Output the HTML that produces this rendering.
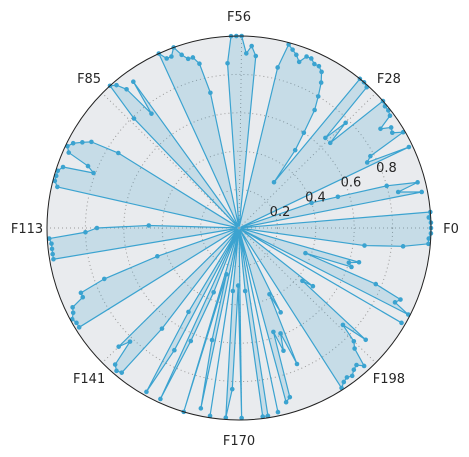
<!DOCTYPE html>
<html><head><meta charset="utf-8"><style>
html,body{margin:0;padding:0;background:#fff}
svg{display:block}
text{font-family:"DejaVu Sans","Liberation Sans",sans-serif;font-size:13px;fill:#262626}
</style></head><body>
<svg id="chart" width="469" height="457" viewBox="0 0 469 457"></svg>
<script>
const N = 226;
const categoryLabels = ["F0","F28","F56","F85","F113","F141","F170","F198"];
const categoryIndex = [0,28,56,85,113,141,170,198];
const radialTicks = [0.2,0.4,0.6,0.8];
const radialTickLabels = ["0.2","0.4","0.6","0.8"];
const spikeIndex = [0,1,2,3,7,8,9,10,11,12,16,17,18,19,20,21,22,23,24,25,26,27,28,29,30,31,32,33,34,35,36,37,38,39,40,41,42,43,44,45,46,47,48,53,54,55,56,57,58,59,64,65,66,67,68,69,70,71,72,79,80,81,82,83,84,93,94,95,96,97,98,99,100,101,102,103,104,105,112,113,114,115,116,117,118,119,125,126,127,128,129,130,131,132,133,141,142,143,144,145,146,150,151,152,154,155,156,159,160,161,162,164,166,167,168,169,170,173,174,175,177,179,180,181,182,183,184,185,186,190,191,192,193,194,195,196,197,198,199,200,201,202,207,209,210,211,212,213,214,215,216,221,222,223,224,225];
const spikeValue = [1.0,1.0,0.99,1.0,0.97,0.85,0.96,0.8,0.54,0.4,0.98,0.75,0.78,0.99,0.94,0.95,0.9,0.98,0.99,0.99,1.0,0.65,0.78,0.65,0.99,1.0,1.0,0.3,0.5,0.6,0.73,0.8,0.87,0.92,0.94,0.94,0.96,0.96,0.92,0.95,0.97,0.99,0.86,0.9,0.95,0.91,1.0,1.0,1.0,0.86,0.72,0.88,0.92,0.92,0.95,1.0,0.96,0.96,1.0,0.94,0.75,0.93,0.98,1.0,0.79,0.74,0.89,0.93,0.97,0.99,0.97,0.85,0.81,0.97,0.99,0.99,0.99,0.97,0.47,0.74,0.8,0.99,0.98,0.98,0.98,0.98,0.45,0.75,0.89,0.89,0.96,0.97,0.99,0.98,0.98,0.88,0.82,0.96,0.98,0.97,0.66,0.51,0.98,0.72,0.98,0.64,0.36,1.0,0.25,0.6,0.96,0.99,0.33,0.99,0.84,0.3,0.99,0.33,0.99,0.99,0.98,0.94,0.92,0.57,0.68,0.59,0.77,0.38,0.49,0.99,0.97,0.96,0.97,0.95,0.94,0.97,0.87,0.84,0.74,0.88,0.43,0.49,0.98,0.99,0.9,0.92,0.77,0.37,0.62,0.6,0.65,0.66,0.86,0.99,0.99,1.0];
const values = new Array(N).fill(0.01);
spikeIndex.forEach((k,j)=>{values[k]=spikeValue[j];});

const svg = document.getElementById('chart');
const NS = 'http://www.w3.org/2000/svg';
const cx = 239, cy = 228, R = 192, rMax = 1.0;
function ang(i){return i*2*Math.PI/N;}
function rad(v){return v/rMax*R;}
function px(i,v){return cx+rad(v)*Math.cos(ang(i));}
function py(i,v){return cy-rad(v)*Math.sin(ang(i));}
function mk(tag,attrs){const e=document.createElementNS(NS,tag);for(const k in attrs)e.setAttribute(k,attrs[k]);svg.appendChild(e);return e;}

const bg = mk('circle',{cx:cx,cy:cy,r:R,fill:'#e9ebee'});



radialTicks.forEach((t,j)=>{
  const c = mk('circle',{cx:cx,cy:cy,r:rad(t),fill:'none',stroke:'#999','stroke-width':1,'stroke-dasharray':'1,3'});
  
  
});
categoryIndex.forEach((k)=>{
  const l = mk('line',{x1:cx,y1:cy,x2:px(k,rMax),y2:py(k,rMax),stroke:'#999','stroke-width':1,'stroke-dasharray':'1,3'});
  
  
});

let pts = values.map((v,i)=>px(i,v).toFixed(2)+','+py(i,v).toFixed(2)).join(' ');
const area = mk('polygon',{points:pts,fill:'#3aa0cf','fill-opacity':0.2,stroke:'none'});


const line = mk('polygon',{points:pts,fill:'none',stroke:'#3ba3d0','stroke-width':1.2,'stroke-linejoin':'round'});


values.forEach((v,i)=>{
  if(v<0.05) return;
  const d = mk('circle',{cx:px(i,v),cy:py(i,v),r:2.3,fill:'#3ba3d0'});
  
  
});

const border = mk('circle',{cx:cx,cy:cy,r:R,fill:'none',stroke:'#222','stroke-width':1});



radialTicks.forEach((t,j)=>{
  const a = 22.5*Math.PI/180, r = rad(t)+6;
  const tx = mk('text',{x:cx+r*Math.cos(a),y:cy-r*Math.sin(a)+5,'text-anchor':'middle'});
  tx.textContent = radialTickLabels[j];
  
  
});
categoryIndex.forEach((k,j)=>{
  const a = j*Math.PI/4, r = R+20;
  const tx = mk('text',{x:cx+r*Math.cos(a),y:cy-r*Math.sin(a)+5,'text-anchor':'middle'});
  tx.textContent = categoryLabels[j];
  
  
});
</script>
</body></html>
